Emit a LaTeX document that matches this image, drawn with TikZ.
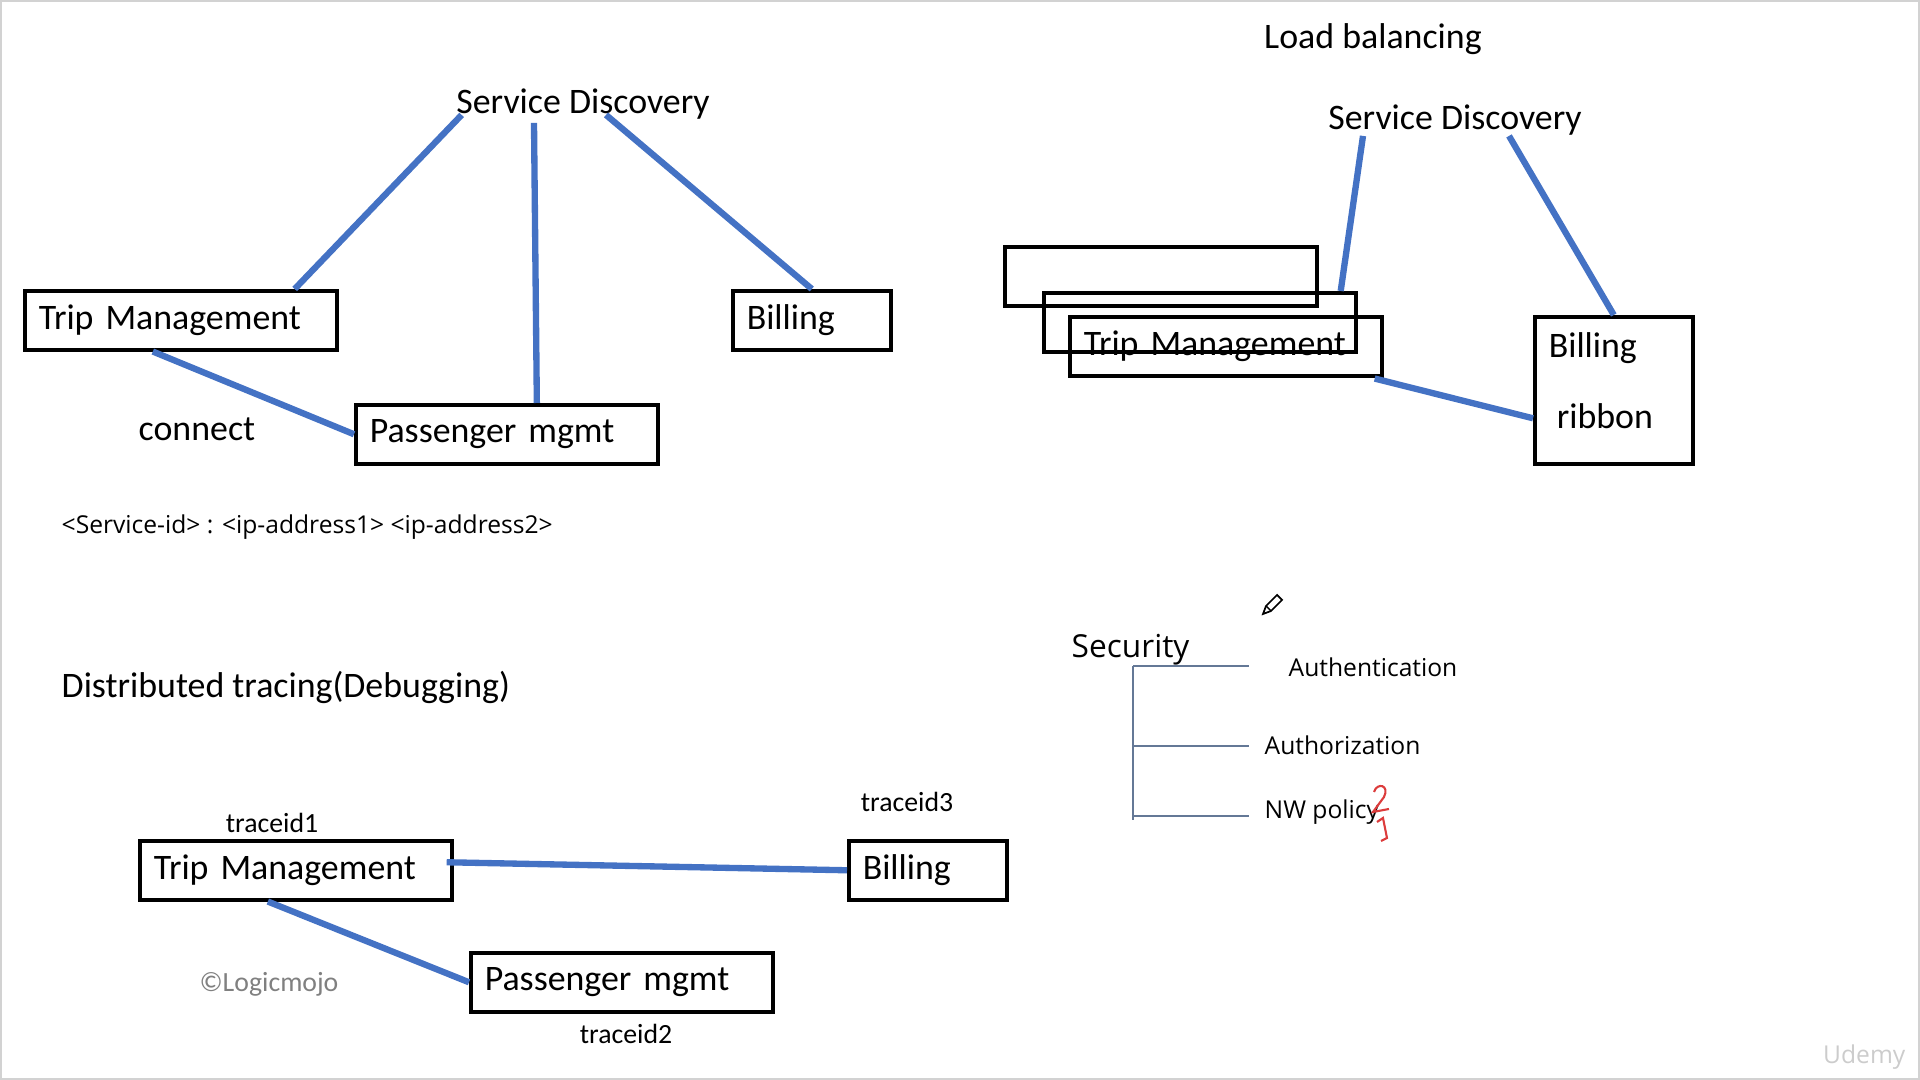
\documentclass[tikz,border=0pt]{standalone}
\usepackage{fontspec}
\setmainfont{Carlito}
\newfontfamily\segoefont{Open Sans}
\newcommand\mainsize{\fontsize{10.2pt}{12.3pt}\selectfont}
\definecolor{linkblue}{RGB}{68,114,196}
\definecolor{treegray}{RGB}{100,120,150}
\definecolor{penred}{RGB}{220,60,60}

\begin{document}
\begin{tikzpicture}[
        x=0.01cm, y=-0.01cm,
        box/.style={draw, line width=1pt, anchor=north west, minimum height=0.59cm, inner xsep=0.14cm, inner ysep=0pt, align=left, font=\mainsize},
        wide/.style={text width=2.84cm},
        mid/.style={text width=2.74cm},
        narrow/.style={text width=1.30cm},
        lbl/.style={anchor=west, inner sep=0pt, font=\mainsize},
        small/.style={anchor=west, inner sep=0pt, font=\segoefont\fontsize{7pt}{8.4pt}\selectfont},
        trace/.style={inner sep=0pt, font=\fontsize{7.9pt}{9.5pt}\selectfont},
        link/.style={draw=linkblue, line width=1.8pt},
        branch/.style={draw=treegray, line width=0.4pt}
    ]
    \useasboundingbox (0,0) rectangle (1920,1080);
    \draw[gray!35, line width=0.5pt] (1,1) rectangle (1919,1079);

    % service discovery
    \node[lbl, anchor=center] (sd) at (583,104) {Service Discovery};
    \node[box, wide] (tm) at (23,289) {Trip Management};
    \node[box, narrow] (bill) at (731,289) {Billing};
    \node[box, mid] (pm) at (354,403) {Passenger mgmt};
    \node[lbl] (conn) at (138,429) {connect};
    \node[small] (ids) at (61,527) {<Service-id> : <ip-address1> <ip-address2>};

    \draw[link] ([shift={(6,-5)}]sd.south west) -- ([shift={(-44,0)}]tm.north east);
    \draw[link] ([shift={(-49,3)}]sd.south) -- ([shift={(30,0)}]pm.north);
    \draw[link] ([shift={(23,-5)}]sd.south) -- (bill.north);
    \draw[link] ([shift={(-28,0)}]tm.south) -- (pm.west);

    % load balancing
    \node[lbl, anchor=center] (lb) at (1373,39) {Load balancing};
    \node[lbl, anchor=center] (sd2) at (1455,120) {Service Discovery};
    \node[box, wide] (tmA) at (1003,245) {};
    \node[box, wide] (tmB) at (1042,291) {};
    \node[box, wide] (tmC) at (1068,315) {Trip Management};
    \node[box, narrow, minimum height=1.47cm] (br) at (1533,315) {Billing\\[8pt]\hspace{0.08cm}ribbon\\[-6.6pt]\mbox{}};

    \draw[link] ([shift={(-92,0)}]sd2.south) -- ([shift={(-17,0)}]tmB.north east);
    \draw[link] ([shift={(54,0)}]sd2.south) -- (br.north);
    \draw[link] ([shift={(-9,1)}]tmC.south east) -- ([shift={(0,28)}]br.west);

    % distributed tracing
    \node[lbl] (dt) at (61,687) {Distributed tracing(Debugging)};
    \node[box, wide] (tm2) at (138,839) {Trip Management};
    \node[box, narrow] (bl2) at (847,839) {Billing};
    \node[box, mid] (pm2) at (469,951) {Passenger mgmt};
    \node[trace] (tid1) at (272,823) {traceid1};
    \node[trace] (tid3) at (907,802) {traceid3};
    \node[trace] (tid2) at (626,1034) {traceid2};
    \node[trace, text=gray] (logo) at (269,984) {\textcopyright Logicmojo};

    \draw[link] ([shift={(-7,-8)}]tm2.east) -- (bl2.west);
    \draw[link] ([shift={(-28,0)}]tm2.south) -- (pm2.west);

    % security
    \node[lbl, font=\segoefont\fontsize{9pt}{11pt}\selectfont] (sec) at (1071,650) {Security};
    \node[small] (authn) at (1288,667) {Authentication};
    \node[small] (authz) at (1264,745) {Authorization};
    \node[small] (nwp) at (1264,812) {NW policy};
    \draw[branch] (1133,666) -- (1133,820);
    \foreach \yy in {666,746,816}
        \draw[branch] (1133,\yy) -- (1249,\yy);

    % pen marks
    \draw[penred, line width=0.6pt] (1374,792) .. controls (1377,782) and (1390,785) .. (1384,797) -- (1373,812) -- (1389,809);
    \draw[penred, line width=0.6pt] (1377,822) -- (1383,818) -- (1387,838) -- (1381,841);
    \draw[line width=0.5pt] (1263,614) -- (1266,606) -- (1277,595) -- (1282,600) -- (1271,611) -- cycle;
    \draw[line width=0.4pt] (1266,606) -- (1271,611);

    \node[small, anchor=east, gray!40] (udemy) at (1906,1057) {Udemy};
\end{tikzpicture}
\end{document}
